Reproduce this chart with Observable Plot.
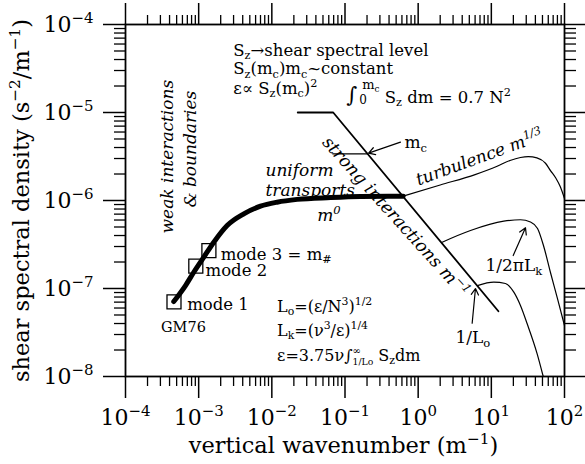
<!DOCTYPE html>
<html><head><meta charset="utf-8">
<script src="https://cdn.jsdelivr.net/npm/d3@7"></script>
<script src="https://cdn.jsdelivr.net/npm/@observablehq/plot@0.6"></script>
<style>html,body{margin:0;padding:0;background:#fff}#chart{width:585px;height:464px}</style>
</head><body><div id="chart"></div>
<script>
// ---- data ----
const gm76X = [4.57e-4, 6.61e-4, 8.57e-4, 1.175e-3, 1.61e-3, 2.45e-3, 4.14e-3, 7.0e-3, 0.0118, 0.0222, 0.0634, 0.163, 0.624];
const gm76Y = [7.11e-8, 1.08e-7, 1.53e-7, 2.27e-7, 3.36e-7, 5.2e-7, 7.06e-7, 8.61e-7, 9.57e-7, 1.03e-6, 1.08e-6, 1.11e-6, 1.12e-6];
const modeLabels = ["mode 1", "mode 2", "mode 3 = m_{#}"];
const modeX = [4.6e-4, 9.14e-4, 1.38e-3];
const modeY = [7.03e-8, 1.80e-7, 2.70e-7];
const modeLabelX = [6.97e-4, 1.24e-3, 2.0e-3];
const modeLabelY = [6.58e-8, 1.60e-7, 2.43e-7];
const strongX = [0.0226, 0.069, 12.5];
const strongY = [1e-5, 1e-5, 5.52e-8];
const mcX = [0.068, 0.205];
const mcY = [3.39e-6, 3.39e-6];
const turbX = [0.624, 2.0, 6.0, 12.0, 18.0, 25.0, 32.0, 42.0, 55.0, 64.3, 76.0, 88.0, 100];
const turbY = [1.12e-6, 1.5e-6, 1.97e-6, 2.45e-6, 2.85e-6, 3.08e-6, 3.15e-6, 3.05e-6, 2.65e-6, 2.19e-6, 1.8e-6, 1.42e-6, 1.05e-6];
const lkX = [2.13, 5.19, 14.8, 25.0, 34.3, 42.8, 51.6, 64.3, 80.2, 100];
const lkY = [3.36e-7, 4.56e-7, 5.82e-7, 6.04e-7, 5.70e-7, 4.81e-7, 3.08e-7, 1.52e-7, 7.69e-8, 3.80e-8];
const loX = [6.44, 10.8, 15.6, 20.3, 25.0, 30.9, 42.3, 51.2];
const loY = [1.08e-7, 1.18e-7, 1.14e-7, 9.08e-8, 6.41e-8, 3.97e-8, 1.81e-8, 1.0e-8];
const arrowFromX = [0.573, 19.9, 5.47];
const arrowFromY = [4.6e-6, 2.37e-7, 4.03e-8];
const arrowToX = [0.21, 29.3, 6.07];
const arrowToY = [3.45e-6, 4.9e-7, 1.0e-7];
const xMajor = [1e-4, 1e-3, 1e-2, 1e-1, 1e0, 1e1, 1e2];
const yMajor = [1e-8, 1e-7, 1e-6, 1e-5, 1e-4];
const minorFactors = [2, 3, 4, 5, 6, 7, 8, 9];
const xMinor = xMajor.slice(0, -1).flatMap(d => minorFactors.map(f => f * d));
const yMinor = yMajor.slice(0, -1).flatMap(d => minorFactors.map(f => f * d));
const tickLabel = d => "10^{" + String(Math.round(Math.log10(d))).replace("-", "−") + "}";

// annotation texts
const topLines = ["S_{z}→shear spectral level", "S_{z}(m_{c})m_{c}~constant", "ε∝ S_{z}(m_{c})^{2}"];
const topLinesX = [2.97e-3, 2.97e-3, 2.97e-3];
const topLinesY = [5.07e-5, 3.14e-5, 1.87e-5];
const scaleLines = ["L_{o}=(ε/N^{3})^{1/2}", "L_{k}=(ν^{3}/ε)^{1/4}", "ε=3.75ν∫_^{1/Lo}{∞} S_{z}dm"];
const scaleLinesX = [0.0118, 0.0118, 0.0118];
const scaleLinesY = [6.24e-8, 3.33e-8, 1.73e-8];

const gm76 = gm76X.map((x, i) => ({x, y: gm76Y[i]}));
const modes = modeX.map((x, i) => ({x, y: modeY[i], label: modeLabels[i], lx: modeLabelX[i], ly: modeLabelY[i]}));
const strong = strongX.map((x, i) => ({x, y: strongY[i]}));
const mc = mcX.map((x, i) => ({x, y: mcY[i]}));
const turb = turbX.map((x, i) => ({x, y: turbY[i]}));
const lk = lkX.map((x, i) => ({x, y: lkY[i]}));
const lo = loX.map((x, i) => ({x, y: loY[i]}));
const arrows = arrowFromX.map((x, i) => ({x1: x, y1: arrowFromY[i], x2: arrowToX[i], y2: arrowToY[i]}));
const tops = topLines.map((t, i) => ({t, x: topLinesX[i], y: topLinesY[i]}));
const scales = scaleLines.map((t, i) => ({t, x: scaleLinesX[i], y: scaleLinesY[i]}));

const serif = "DejaVu Serif";
const blank = () => "";

const plot = Plot.plot({
  width: 585, height: 464,
  marginLeft: 125, marginRight: 21, marginTop: 24, marginBottom: 88,
  x: {type: "log", domain: [1e-4, 1e2]},
  y: {type: "log", domain: [1e-8, 1e-4]},
  style: {fontFamily: serif, fontSize: "16px", color: "black", background: "white"},
  marks: [
    Plot.axisX({ticks: xMajor, anchor: "bottom", tickSize: 22, tickPadding: 11, tickFormat: tickLabel, fontSize: 22, strokeWidth: 1.5, label: null}),
    Plot.axisX({ticks: xMinor, anchor: "bottom", tickSize: 10, tickFormat: blank, strokeWidth: 1.3, label: null}),
    Plot.axisX({ticks: xMajor, anchor: "top", tickSize: 22, tickFormat: blank, strokeWidth: 1.5, label: null}),
    Plot.axisX({ticks: xMinor, anchor: "top", tickSize: 10, tickFormat: blank, strokeWidth: 1.3, label: null}),
    Plot.axisY({ticks: yMajor, anchor: "left", tickSize: 22, tickPadding: 10, tickFormat: tickLabel, fontSize: 22, strokeWidth: 1.5, label: null}),
    Plot.axisY({ticks: yMinor, anchor: "left", tickSize: 11, tickFormat: blank, strokeWidth: 1.3, label: null}),
    Plot.axisY({ticks: yMajor, anchor: "right", tickSize: 22, tickFormat: blank, strokeWidth: 1.5, label: null}),
    Plot.axisY({ticks: yMinor, anchor: "right", tickSize: 11, tickFormat: blank, strokeWidth: 1.3, label: null}),
    Plot.frame({strokeWidth: 1.8}),
    Plot.text(["shear spectral density (s^{−2}/m^{−1})"], {frameAnchor: "left", textAnchor: "middle", lineAnchor: "middle", rotate: -90, dx: -104, fontSize: 22.5}),
    Plot.text(["vertical wavenumber (m^{−1})"], {frameAnchor: "bottom", textAnchor: "middle", lineAnchor: "middle", dx: -1.5, dy: 69, fontSize: 22.5}),
    // lines
    Plot.line(strong, {x: "x", y: "y", strokeWidth: 1.8}),
    Plot.line(mc, {x: "x", y: "y", strokeWidth: 1.3}),
    Plot.line(turb, {x: "x", y: "y", curve: "monotone-x", strokeWidth: 1.2}),
    Plot.line(lk, {x: "x", y: "y", curve: "monotone-x", strokeWidth: 1.2}),
    Plot.line(lo, {x: "x", y: "y", curve: "monotone-x", strokeWidth: 1.2}),
    Plot.line(gm76, {x: "x", y: "y", curve: "monotone-x", strokeWidth: 5, strokeLinecap: "round"}),
    Plot.dot(modes, {x: "x", y: "y", symbol: "square", r: 7.9, stroke: "black", fill: "none", strokeWidth: 1.3}),
    Plot.arrow(arrows, {x1: "x1", y1: "y1", x2: "x2", y2: "y2", strokeWidth: 1.2, headLength: 9}),
    // labels
    Plot.text(modes, {x: "lx", y: "ly", text: "label", textAnchor: "start", fontSize: 16.5}),
    Plot.text(["GM76"], {x: [6.2e-4], y: [3.64e-8], fontSize: 14.5}),
    Plot.text(tops, {x: "x", y: "y", text: "t", textAnchor: "start", fontSize: 16.5}),
    Plot.text(["∫"], {x: [0.125], y: [1.56e-5], fontSize: 21, fontStyle: "italic"}),
    Plot.text(["0"], {x: [0.176], y: [1.38e-5], fontSize: 12}),
    Plot.text(["m_{c}"], {x: [0.172], y: [2.05e-5], textAnchor: "start", fontSize: 13}),
    Plot.text(["S_{z} dm = 0.7 N^{2}"], {x: [0.35], y: [1.48e-5], textAnchor: "start", fontSize: 16.5}),
    Plot.text(scales, {x: "x", y: "y", text: "t", textAnchor: "start", fontSize: 16}),
    Plot.text(["m_{c}"], {x: [0.65], y: [4.56e-6], textAnchor: "start", fontSize: 17}),
    Plot.text(["1/L_{o}"], {x: [3.24], y: [2.77e-8], textAnchor: "start", fontSize: 17}),
    Plot.text(["1/2πL_{k}"], {x: [8.32], y: [1.82e-7], textAnchor: "start", fontSize: 17}),
    Plot.text(["weak interactions"], {x: [3.75e-4], y: [4.22e-7], rotate: -90, textAnchor: "start", fontSize: 17, fontStyle: "italic"}),
    Plot.text(["& boundaries"], {x: [7.72e-4], y: [8.3e-7], rotate: -90, textAnchor: "start", fontSize: 17, fontStyle: "italic"}),
    Plot.text(["uniform", "transports", "m^{0}"], {x: [8.18e-3, 8.18e-3, 0.0417], y: [2.19e-6, 1.30e-6, 6.76e-7], textAnchor: "start", fontSize: 17, fontStyle: "italic"}),
    Plot.text(["turbulence m^{1/3}"], {x: [0.951], y: [1.69e-6], rotate: -20, textAnchor: "start", fontSize: 17, fontStyle: "italic"}),
    Plot.text(["strong interactions m^{−1}"], {x: [0.49], y: [6.5e-7], rotate: 48, fontSize: 17.5, fontStyle: "italic"})
  ]
});
document.getElementById("chart").appendChild(plot);

// rich text: ^{..} superscript, _{..} subscript, _^{a}{b} stacked limits
const NS = "http://www.w3.org/2000/svg";
function group(raw, j) {
  let depth = 0, k = j;
  for (; k < raw.length; k++) {
    if (raw[k] === "{") depth++;
    else if (raw[k] === "}") { depth--; if (depth === 0) break; }
  }
  return [raw.slice(j + 1, k), k + 1];
}
function rich(el) {
  const raw = el.textContent;
  if (!/[_^]\{/.test(raw)) return;
  const fs = parseFloat(getComputedStyle(el).fontSize);
  const runs = [];
  let i = 0, buf = "";
  const flush = () => { if (buf) { runs.push({k: "n", t: buf}); buf = ""; } };
  while (i < raw.length) {
    if (raw.startsWith("_^{", i)) { flush(); const [a, n1] = group(raw, i + 2); const [b, n2] = group(raw, n1); runs.push({k: "st", a, b}); i = n2; }
    else if (raw.startsWith("^{", i)) { flush(); const [t, n] = group(raw, i + 1); runs.push({k: "sup", t}); i = n; }
    else if (raw.startsWith("_{", i)) { flush(); const [t, n] = group(raw, i + 1); runs.push({k: "sub", t}); i = n; }
    else { buf += raw[i]; i++; }
  }
  flush();
  el.textContent = "";
  let shift = 0, pend = 0;
  const mk = (t, size, target, dx) => {
    const ts = document.createElementNS(NS, "tspan");
    ts.textContent = t;
    if (size) ts.setAttribute("font-size", size);
    ts.setAttribute("dy", target - shift);
    shift = target;
    const d = (dx || 0) + pend; pend = 0;
    if (d) ts.setAttribute("dx", d);
    el.appendChild(ts);
    return ts;
  };
  for (const r of runs) {
    if (r.k === "n") mk(r.t, null, 0);
    else if (r.k === "sup") mk(r.t, fs * 0.68, -0.4 * fs);
    else if (r.k === "sub") mk(r.t, fs * 0.68, 0.22 * fs);
    else {
      const a = mk(r.a, fs * 0.58, 0.3 * fs);
      const la = a.getComputedTextLength();
      const b = mk(r.b, fs * 0.62, -0.42 * fs, -la);
      const lb = b.getComputedTextLength();
      pend = Math.max(0, la - lb);
    }
  }
}
plot.querySelectorAll("text").forEach(rich);
</script></body></html>
